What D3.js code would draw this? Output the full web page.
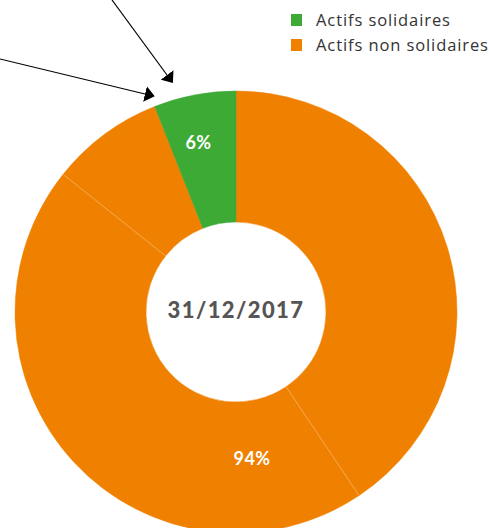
<!DOCTYPE html>
<html>
<head>
<meta charset="utf-8">
<script src="https://cdn.jsdelivr.net/npm/d3@7"></script>
<style>
  body { margin: 0; background: #fff; }
  svg { display: block; }
</style>
</head>
<body>
<div id="wrapper"></div>
<script>
// Data
const groups = ["Actifs solidaires", "Actifs non solidaires"];
const groupColors = ["#3daa35", "#f08000"];
const groupLabels = ["6%", "94%"];
// slices clockwise from the top, each belongs to a group
const sliceGroups = ["Actifs non solidaires", "Actifs non solidaires", "Actifs non solidaires", "Actifs solidaires"];
const sliceValues = [40.6, 45.1, 8.3, 6];
const centerLabel = "31/12/2017";

// Dimension
const dimension = { width: 489, height: 528 };
const cx = 236, cy = 312;
const outerR = 221, innerR = 90;

const color = d3.scaleOrdinal().domain(groups).range(groupColors);

const svg = d3.select("#wrapper").append("svg")
  .attr("width", dimension.width).attr("height", dimension.height);

const defs = svg.append("defs");
defs.append("marker")
  .attr("id", "arrow")
  .attr("markerUnits", "userSpaceOnUse")
  .attr("viewBox", "0 -8 10 16")
  .attr("refX", 0).attr("refY", 0)
  .attr("markerWidth", 10).attr("markerHeight", 16)
  .attr("orient", "auto")
  .append("path").attr("d", "M0,-8L10,0L0,8Z").attr("fill", "#000");

const bounded = svg.append("g").attr("transform", `translate(${cx},${cy})`);

// Pie
const slices = sliceValues.map((v, i) => ({ value: v, group: sliceGroups[i] }));
const pie = d3.pie().value(d => d.value).sort(null);
const arcs = pie(slices);
const arc = d3.arc().innerRadius(innerR).outerRadius(outerR);

bounded.selectAll("path.slice")
  .data(arcs).enter().append("path")
  .attr("class", "slice")
  .attr("d", arc)
  .attr("fill", d => color(d.data.group))
  .attr("stroke", d => color(d.data.group))
  .attr("stroke-width", 0.5);

// faint separators between slices of the same group
bounded.selectAll("line.sep")
  .data(arcs.filter((d, i) => i > 0 && arcs[i - 1].data.group === d.data.group))
  .enter().append("line")
  .attr("class", "sep")
  .attr("x1", d => innerR * Math.sin(d.startAngle))
  .attr("y1", d => -innerR * Math.cos(d.startAngle))
  .attr("x2", d => outerR * Math.sin(d.startAngle))
  .attr("y2", d => -outerR * Math.cos(d.startAngle))
  .attr("stroke", "#ffffff").attr("stroke-opacity", 0.35).attr("stroke-width", 0.8);

// group labels
const groupArcs = groups.map((g, gi) => {
  const parts = arcs.filter(d => d.data.group === g);
  return {
    group: g, label: groupLabels[gi],
    startAngle: d3.min(parts, d => d.startAngle),
    endAngle: d3.max(parts, d => d.endAngle)
  };
});
const labelShift = { "Actifs solidaires": { r: 173, a: -0.03 }, "Actifs non solidaires": { r: 148, a: 0.08 } };
bounded.selectAll("text.pct")
  .data(groupArcs).enter().append("text")
  .attr("class", "pct")
  .attr("transform", d => {
    const s = labelShift[d.group];
    const a = (d.startAngle + d.endAngle) / 2 + s.a;
    return `translate(${s.r * Math.sin(a)},${-s.r * Math.cos(a)})`;
  })
  .attr("text-anchor", "middle").attr("dy", "0.35em")
  .attr("fill", "#fff").attr("font-family", "Lato, sans-serif")
  .attr("font-weight", "bold").attr("font-size", "18px")
  .attr("letter-spacing", "0.5px")
  .text(d => d.label);

// center label
bounded.append("text")
  .attr("text-anchor", "middle").attr("dy", "0.35em").attr("y", -2)
  .attr("fill", "#555").attr("font-family", "Lato, sans-serif")
  .attr("font-weight", "900").attr("font-size", "22px")
  .attr("letter-spacing", "1.4px")
  .text(centerLabel);

// annotation arrows pointing to the solidaires slice
const arrows = [
  { x1: 112, y1: 0, x2: 167, y2: 75 },
  { x1: 0, y1: 59, x2: 145, y2: 94 }
];
svg.selectAll("line.arrow")
  .data(arrows).enter().append("line")
  .attr("class", "arrow")
  .attr("x1", d => d.x1).attr("y1", d => d.y1)
  .attr("x2", d => d.x2).attr("y2", d => d.y2)
  .attr("stroke", "#000").attr("stroke-width", 1.2)
  .attr("marker-end", "url(#arrow)");

// Legend
const legend = svg.append("g").attr("transform", "translate(291,14)");
const legendItems = legend.selectAll("g")
  .data(groups).enter().append("g")
  .attr("transform", (d, i) => `translate(0,${i * 25})`);
legendItems.append("rect")
  .attr("width", 11).attr("height", 12)
  .attr("fill", d => color(d));
legendItems.append("text")
  .attr("x", 25).attr("y", 12)
  .attr("fill", "#333").attr("font-family", "'Open Sans', sans-serif")
  .attr("font-size", "16.5px")
  .attr("letter-spacing", "0.9px")
  .text(d => d);
</script>
</body>
</html>
